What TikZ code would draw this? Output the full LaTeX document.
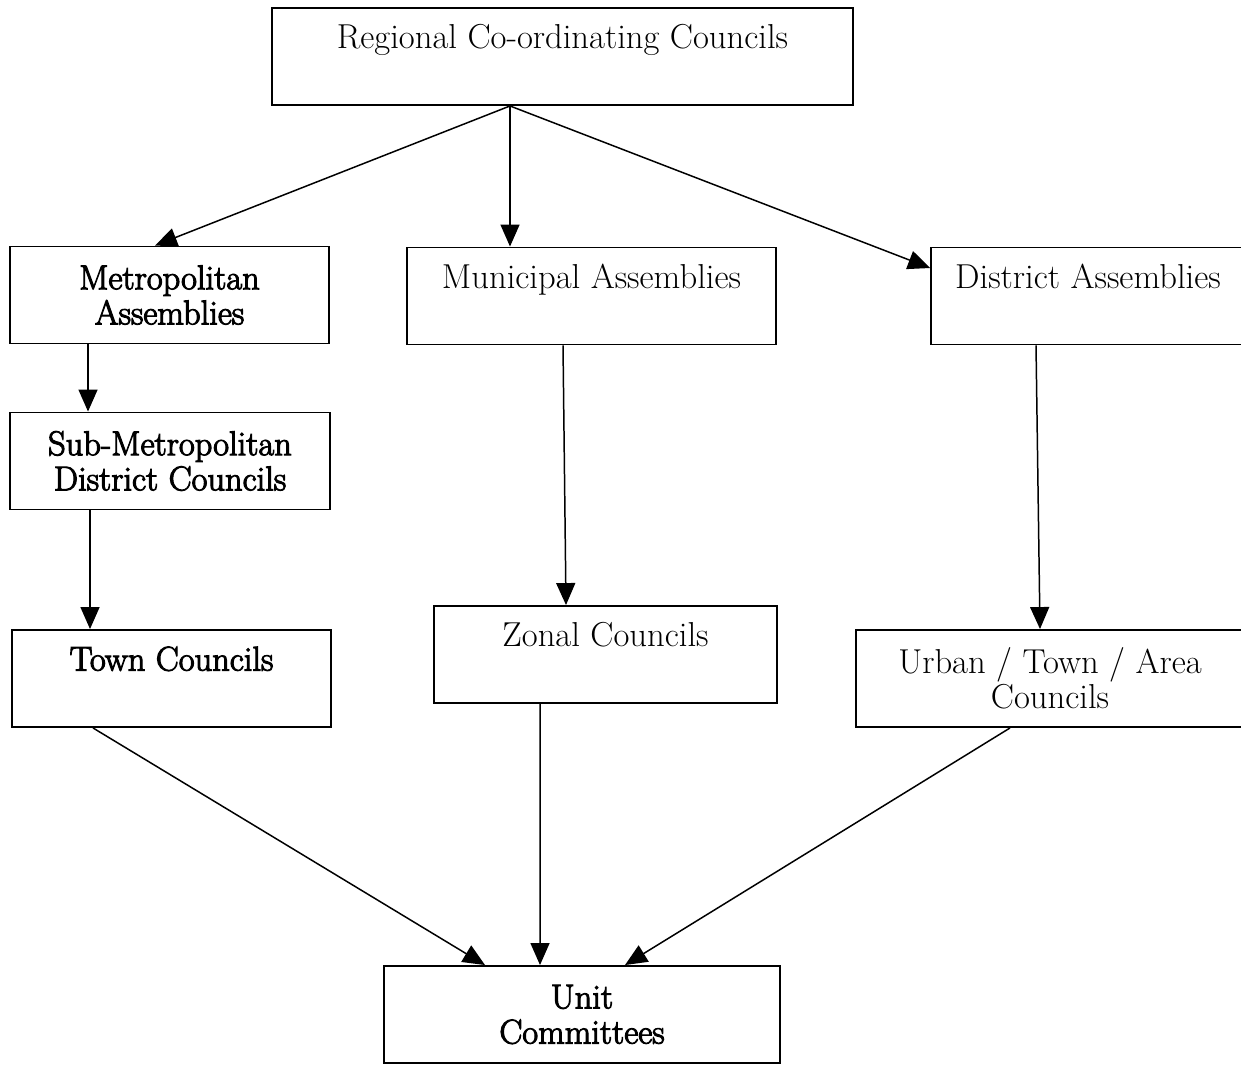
\documentclass[tikz,border=0pt]{standalone}
\usepackage{fontspec}
\newfontfamily\heavyfont[FakeBold=3]{Latin Modern Roman}
\usetikzlibrary{arrows.meta}
\begin{document}
\begin{tikzpicture}[x=0.02cm,y=-0.02cm,font=\fontsize{19.7}{20}\selectfont]
% Local government structure. Coordinates are in pixels of a 1241 x 1065 page,
% y running downwards; box widths are given in cm (1 px = 0.02 cm).
\useasboundingbox (0,0) rectangle (1241,1065);
\clip (0,0) rectangle (1241,1065);

\tikzset{
  unit/.style={rectangle,draw=black,line width=1.1pt,minimum height=1.94cm,inner ysep=0pt,align=center},
  oneline/.style={text height=23pt,text depth=32pt},
  heavy/.style={font=\heavyfont\fontsize{19.6}{20}\selectfont},
  link/.style={line width=0.85pt,-{Triangle[length=0.44cm,width=0.38cm]}}
}

% Boxes.
\node[unit,oneline,minimum width=11.62cm] (reg) at (562.5,56.5) {Regional Co-ordinating Councils};
\node[unit,heavy,minimum width=6.38cm] (metro) at (169.5,295) {Metropolitan\\Assemblies};
\node[unit,oneline,minimum width=7.38cm] (muni) at (591.5,296) {Municipal Assemblies};
\node[unit,oneline,minimum width=6.28cm] (dist) at (1088,296) {District Assemblies};
\node[unit,heavy,minimum width=6.40cm] (submetro) at (170,461) {Sub-Metropolitan\\District Councils};
\node[unit,heavy,oneline,minimum width=6.38cm] (town) at (171.5,678.5) {Town Councils};
\node[unit,oneline,minimum width=6.86cm] (zonal) at (605.5,654.5) {Zonal Councils};
\node[unit,minimum width=7.76cm] (urban) at (1050,678.5) {Urban / Town / Area\\Councils};
\node[unit,heavy,minimum width=7.92cm] (committee) at (582,1014.5) {Unit\\Committees};

% Arrows from the regional councils.
\coordinate (hub) at ([xshift=-1.05cm]reg.south);
\draw[link] (hub) -- ([xshift=-0.29cm]metro.north);
\draw[link] (hub) -- (hub |- muni.north);
\draw[link] (hub) -- ([yshift=0.56cm]dist.west);

% Arrows down each column.
\draw[link] ([xshift=-1.63cm]metro.south) -- ([xshift=-1.63cm]metro.south |- submetro.north);
\draw[link] ([xshift=-1.60cm]submetro.south) -- ([xshift=-1.60cm]submetro.south |- town.north);
\draw[link] ([xshift=-0.57cm]muni.south) -- ([xshift=-0.79cm]zonal.north);
\draw[link] ([xshift=-1.04cm]dist.south) -- ([xshift=-0.20cm]urban.north);

% Arrows into the unit committees.
\draw[link] ([xshift=-1.57cm]town.south) -- ([xshift=-1.94cm]committee.north);
\draw[link] ([xshift=-1.31cm]zonal.south) -- ([xshift=-0.84cm]committee.north);
\draw[link] ([xshift=-0.80cm]urban.south) -- ([xshift=0.86cm]committee.north);
\end{tikzpicture}
\end{document}
